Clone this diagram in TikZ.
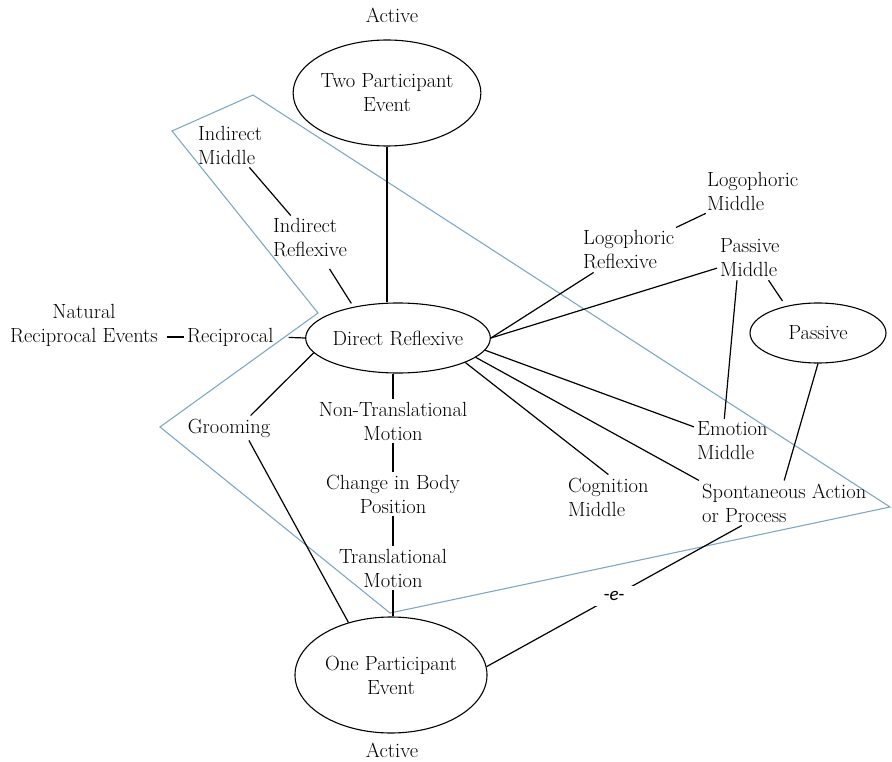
\documentclass[tikz,border=0pt]{standalone}
\usepackage{fontspec}
\newfontfamily\morphfont{Carlito}
\usetikzlibrary{shapes.geometric}
\definecolor{frameblue}{RGB}{128,168,198}

\begin{document}
\begin{tikzpicture}[x=1pt, y=-1pt,
  event/.style={draw, ellipse, line width=1.1pt, inner sep=0pt, align=center,
    font=\fontsize{20.5}{24}\selectfont},
  term/.style={align=left, inner sep=3pt, font=\fontsize{20.5}{24}\selectfont},
  link/.style={line width=1.2pt},
  region/.style={draw=frameblue, line width=1.1pt},
  morph/.style={fill=white, inner xsep=12pt, inner ysep=5pt,
    font=\morphfont\fontsize{19}{20}\selectfont}
]
\useasboundingbox (0,0) rectangle (892,762);

\draw[region] (172,131) -- (253,95) -- (890,507) -- (390,613) -- (160,427) -- (318,313) -- cycle;

\node[term] (topact) at (392,15) {Active};
\node[event, minimum width=180, minimum height=106] (two) at (387,93) {Two Participant\\Event};
\node[event, minimum width=170, minimum height=70] (dr) at (398,338) {Direct Reflexive};
\node[event, minimum width=192, minimum height=116] (one) at (391,675) {One Participant\\Event};
\node[term] (botact) at (392,750) {Active};
\node[event, minimum width=136, minimum height=60] (pass) at (818,333) {Passive};

\node[term, anchor=west] (indm) at (195,145) {Indirect\\Middle};
\node[term, anchor=west] (indr) at (270,238) {Indirect\\Reflexive};
\node[term, align=center] (nat) at (84,325) {Natural\\Reciprocal Events};
\node[term, anchor=west] (recip) at (184,337) {Reciprocal};
\node[term] (groom) at (229,428) {Grooming};
\node[term, align=center] (ntm) at (393,421) {Non-Translational\\Motion};
\node[term, align=center] (cbp) at (393,494) {Change in Body\\Position};
\node[term, align=center] (tm) at (393,568) {Translational\\Motion};
\node[term, anchor=west] (logr) at (580,250) {Logophoric\\Reflexive};
\node[term, anchor=west] (logm) at (704,191) {Logophoric\\Middle};
\node[term, anchor=west] (pasm) at (717,258) {Passive\\Middle};
\node[term, anchor=west] (emo) at (694,441) {Emotion\\Middle};
\node[term, anchor=west] (cog) at (565,497) {Cognition\\Middle};
\node[term, anchor=west] (spon) at (699,503) {Spontaneous Action\\or Process};

\draw[link] (two.south) -- (two.south |- dr.north);
\draw[link] (indm) -- (indr);
\draw[link, shorten <=10pt, shorten >=4pt] (indr) -- (dr.145);
\draw[link, shorten <=6pt] (nat.east |- recip.west) -- (recip.west);
\draw[link, shorten <=12pt] (recip.east) -- (dr.west);
\draw[link] (groom.30) -- (dr.190);
\draw[link] (groom.-32) -- (one.129);
\draw[link] (ntm.north |- dr.south) -- (ntm.north);
\draw[link] (ntm) -- (cbp);
\draw[link] (cbp) -- (tm);
\draw[link] (tm.south) -- (tm.south |- one.north);

\draw[link] (dr.east) -- (logr);
\draw[link] (logr) -- (logm);
\draw[link] (dr.east) -- (pasm);
\draw[link] (dr.-8) -- (emo);
\draw[link] (dr.-14) -- (spon.north west);
\draw[link] (dr.-20) -- (cog.north);
\draw[link] (pasm.240) -- (emo.110);
\draw[link, shorten >=6pt] (pasm.-50) -- (pass.140);
\draw[link] (pass.south) -- (spon.north);
\draw[link] (spon.-152) -- node[morph] (suffix) {-\textit{e}-} (one.5);
\end{tikzpicture}
\end{document}
